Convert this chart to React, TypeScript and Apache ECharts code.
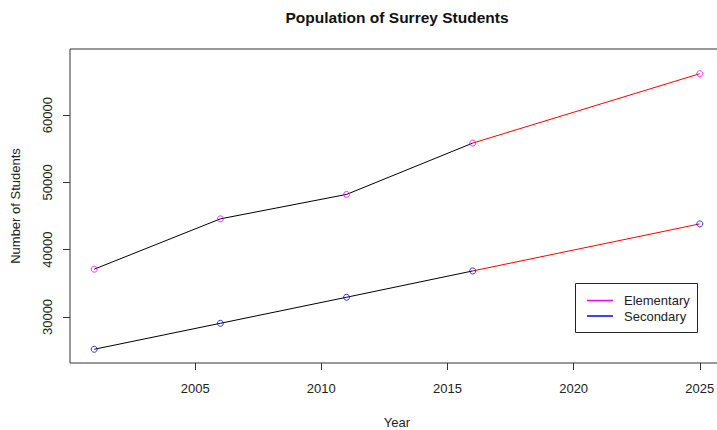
import React, { useEffect, useRef } from "react";
import * as echarts from "echarts";

const years = [2001, 2006, 2011, 2016, 2025];
const elementary = [37100, 44580, 48210, 55840, 66150];
const secondary = [25200, 29060, 32930, 36840, 43830];
const xTicks = [2005, 2010, 2015, 2020, 2025];
const yTicks = [30000, 40000, 50000, 60000];
const projectionFrom = 3; // index of 2016: from here the lines are projections (red)

const FONT = "Liberation Sans, Arial, sans-serif";

function pairs(xs: number[], ys: number[]) {
  return xs.map((x, i) => [x, ys[i]]);
}

export default function App() {
  const ref = useRef<HTMLDivElement>(null);
  useEffect(() => {
    if (!ref.current) return;
    const chart = echarts.init(ref.current, undefined, { renderer: "svg" });
    const elem = pairs(years, elementary);
    const sec = pairs(years, secondary);
    const lineSeries = (name: string, data: number[][], color: string) => ({
      name,
      type: "line",
      data,
      showSymbol: false,
      symbol: "none",
      lineStyle: { color, width: 1 },
      silent: true,
      z: 2,
    });
    const pointSeries = (name: string, data: number[][], color: string) => ({
      name,
      type: "scatter",
      data,
      symbol: "circle",
      symbolSize: 6,
      itemStyle: { color: "rgba(0,0,0,0)", borderColor: color, borderWidth: 1 },
      z: 3,
    });
    chart.setOption({
      animation: false,
      backgroundColor: "#ffffff",
      textStyle: { fontFamily: FONT },
      grid: {
        left: 70,
        top: 49,
        width: 654,
        height: 314,
        outerBoundsMode: "none",
        show: true,
        borderColor: "#333",
        borderWidth: 1,
        backgroundColor: "transparent",
        containLabel: false,
      },
      xAxis: {
        type: "value",
        min: 2000.04,
        max: 2025.96,
        name: "Year",
        nameLocation: "middle",
        nameGap: 53,
        nameTextStyle: { fontSize: 13, color: "#222", fontFamily: FONT },
        axisLine: { show: false },
        splitLine: { show: false },
        axisTick: {
          show: true,
          length: 7,
          lineStyle: { color: "#333" },
          customValues: xTicks,
        },
        axisLabel: {
          fontSize: 13,
          color: "#222",
          margin: 19,
          fontFamily: FONT,
          customValues: xTicks,
          formatter: (v: number) => String(v),
        },
      },
      yAxis: {
        type: "value",
        min: 23160,
        max: 69820,
        name: "Number of Students",
        nameLocation: "middle",
        nameGap: 48,
        nameTextStyle: { fontSize: 13, color: "#222", fontFamily: FONT },
        axisLine: { show: false },
        splitLine: { show: false },
        axisTick: {
          show: true,
          length: 7,
          lineStyle: { color: "#333" },
          customValues: yTicks,
        },
        axisLabel: {
          fontSize: 13,
          color: "#222",
          margin: 16,
          rotate: 90,
          fontFamily: FONT,
          customValues: yTicks,
          formatter: (v: number) => String(v),
        },
      },
      series: [
        lineSeries("Elementary", elem.slice(0, projectionFrom + 1), "#000000"),
        lineSeries("Elementary projection", elem.slice(projectionFrom), "#ff0000"),
        lineSeries("Secondary", sec.slice(0, projectionFrom + 1), "#000000"),
        lineSeries("Secondary projection", sec.slice(projectionFrom), "#ff0000"),
        pointSeries("Elementary points", elem, "#ff00ff"),
        pointSeries("Secondary points", sec, "#0000ff"),
      ],
      graphic: [
        {
          type: "text",
          x: 397,
          y: 17,
          style: {
            text: "Population of Surrey Students",
            font: `bold 15.5px ${FONT}`,
            fill: "#111",
            textAlign: "center",
            textVerticalAlign: "middle",
          },
        },
        {
          type: "group",
          children: [
            {
              type: "rect",
              shape: { x: 575.5, y: 283.5, width: 122, height: 49 },
              style: { fill: "#fff", stroke: "#222", lineWidth: 1 },
            },
            {
              type: "line",
              shape: { x1: 587, y1: 300.5, x2: 613, y2: 300.5 },
              style: { stroke: "#ff00ff", lineWidth: 1.5 },
            },
            {
              type: "line",
              shape: { x1: 587, y1: 316, x2: 613, y2: 316 },
              style: { stroke: "#0000ff", lineWidth: 1.5 },
            },
            {
              type: "text",
              x: 624,
              y: 300.5,
              style: {
                text: "Elementary",
                font: `13px ${FONT}`,
                fill: "#222",
                textVerticalAlign: "middle",
              },
            },
            {
              type: "text",
              x: 624,
              y: 316,
              style: {
                text: "Secondary",
                font: `13px ${FONT}`,
                fill: "#222",
                textVerticalAlign: "middle",
              },
            },
          ],
        },
      ],
    });
    return () => chart.dispose();
  }, []);
  return (
    <div
      ref={ref}
      style={{ position: "fixed", left: 0, top: 0, width: 717, height: 430 }}
    />
  );
}
